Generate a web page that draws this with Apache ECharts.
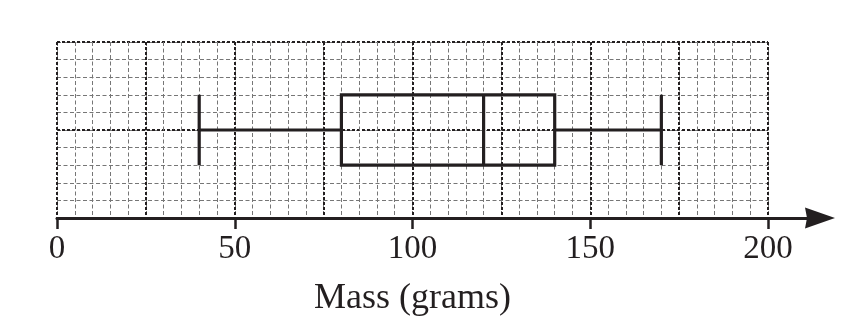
<!DOCTYPE html>
<html>
<head>
<meta charset="utf-8">
<script src="https://cdn.jsdelivr.net/npm/echarts@6/dist/echarts.min.js"></script>
<style>
  html, body { margin: 0; padding: 0; background: #ffffff; }
  #chart { width: 866px; height: 334px; }
</style>
</head>
<body>
<div id="chart"></div>
<script>
// Mass scale shown on the horizontal axis
const massMin = 0;
const massMax = 200;
const tickStep = 50;
const tickLabels = [0, 50, 100, 150, 200];
// Five-number summary: minimum, lower quartile, median, upper quartile, maximum
const boxSummary = [40, 80, 120, 140, 170];
const groups = ['Mass'];
const axisTitle = 'Mass (grams)';

const INK = '#231f20';
const FONT = '"Liberation Serif", "Times New Roman", serif';

// Plot area (grid paper) and a slightly wider band that carries the arrowed axis line
const plotLeft = 57, plotRight = 98, plotTop = 42, plotBottom = 116;
const arrowRight = 46;
const chartWidth = 866;
const arrowMax = massMax * (chartWidth - arrowRight - plotLeft) / (chartWidth - plotRight - plotLeft);

const minorLine = { show: true, lineStyle: { color: '#767676', width: 1, type: [4, 2.5] } };
const majorLine = { show: true, lineStyle: { color: INK, width: 2, type: [3, 2] } };
const hidden = {
  axisLine: { show: false }, axisTick: { show: false }, axisLabel: { show: false }
};

const gridBase = { top: plotTop, bottom: plotBottom, containLabel: false, outerBoundsMode: 'none' };

const option = {
  animation: false,
  backgroundColor: '#ffffff',
  grid: [
    Object.assign({ left: plotLeft, right: plotRight }, gridBase),
    Object.assign({ left: plotLeft, right: arrowRight }, gridBase)
  ],
  xAxis: [
    // minor grid every 5 g
    Object.assign({ type: 'value', gridIndex: 0, position: 'bottom', min: massMin, max: massMax,
      interval: 5, splitLine: minorLine }, hidden),
    // major grid every 25 g
    Object.assign({ type: 'value', gridIndex: 0, position: 'bottom', min: massMin, max: massMax,
      interval: 25, splitLine: majorLine }, hidden),
    // ticks, labels and title
    {
      type: 'value', gridIndex: 0, position: 'bottom', min: massMin, max: massMax, interval: tickStep,
      axisLine: { show: false },
      axisTick: { show: true, inside: false, length: 11, lineStyle: { color: INK, width: 2.5 } },
      axisLabel: {
        show: true, margin: 15, color: INK, fontFamily: FONT, fontSize: 33,
        formatter: (v) => (tickLabels.indexOf(v) >= 0 ? String(v) : '')
      },
      splitLine: { show: false },
      name: axisTitle, nameLocation: 'middle', nameGap: 63,
      nameTextStyle: { color: INK, fontFamily: FONT, fontSize: 36 }
    },
    // arrowed axis line
    {
      type: 'value', gridIndex: 1, position: 'bottom', min: massMin, max: arrowMax,
      axisLine: {
        show: true, onZero: false,
        symbol: ['none', 'path://M10.5,0 L21,30 L10.5,28 L0,30 Z'],
        symbolSize: [21, 30],
        lineStyle: { color: INK, width: 3 }
      },
      axisTick: { show: false }, axisLabel: { show: false }, splitLine: { show: false }
    }
  ],
  yAxis: [
    Object.assign({ type: 'value', gridIndex: 0, position: 'left', min: 0, max: 10, interval: 1,
      splitLine: minorLine }, hidden),
    Object.assign({ type: 'value', gridIndex: 0, position: 'left', min: 0, max: 10, interval: 5,
      splitLine: majorLine }, hidden),
    Object.assign({ type: 'category', gridIndex: 0, position: 'left', data: groups,
      splitLine: { show: false } }, hidden),
    Object.assign({ type: 'value', gridIndex: 1, position: 'left', min: 0, max: 10,
      splitLine: { show: false } }, hidden)
  ],
  series: [
    {
      type: 'boxplot',
      xAxisIndex: 2,
      yAxisIndex: 2,
      data: [boxSummary],
      boxWidth: ['40%', '40%'],
      silent: true,
      itemStyle: { color: 'rgba(0,0,0,0)', borderColor: INK, borderWidth: 3.2 },
      emphasis: { disabled: true },
      z: 5
    }
  ]
};

const chart = echarts.init(document.getElementById('chart'), null, { renderer: 'canvas' });
chart.setOption(option);
</script>
</body>
</html>
